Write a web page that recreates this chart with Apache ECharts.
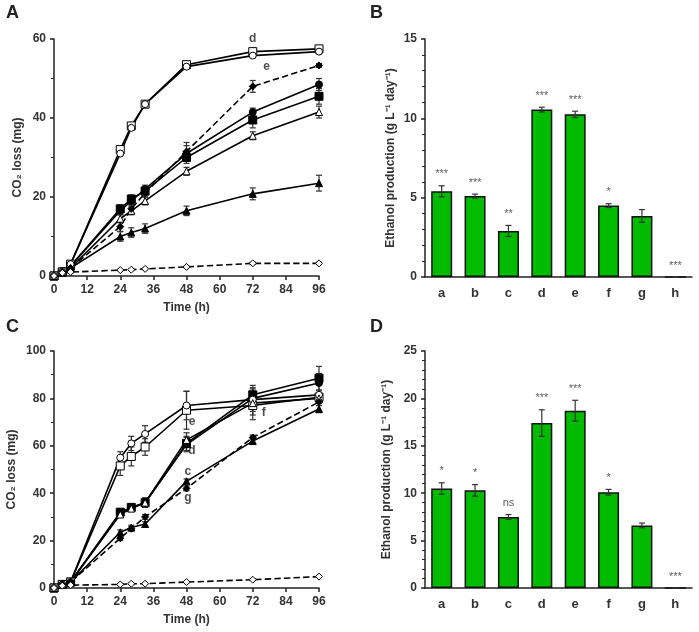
<!DOCTYPE html>
<html><head><meta charset="utf-8">
<script src="https://cdn.jsdelivr.net/npm/echarts@6/dist/echarts.min.js"></script>
<style>html,body{margin:0;background:#fff}#c{width:699px;height:632px}</style>
</head><body><div id="c"></div>
<script>
// sampling times (h)
const times = [0, 3, 6, 24, 28, 33, 48, 72, 96];
const strains = ['a', 'b', 'c', 'd', 'e', 'f', 'g', 'h'];

// panel A: CO2 loss (mg) and SD
const A_vals = {
  a: [0, 1, 2.5, 17, 19.5, 21.5, 30, 39.5, 45.5],
  b: [0, 1, 2.5, 16.5, 19, 22, 31, 41.5, 48.5],
  c: [0, 1, 2, 10, 11, 12, 16.5, 20.8, 23.5],
  d: [0, 1, 3, 32, 38, 43.5, 53.5, 56.8, 57.5],
  e: [0, 1, 3, 31, 37.5, 43.5, 53, 55.8, 56.8],
  f: [0, 1, 2, 14.5, 16.5, 19, 26.5, 35.5, 41.5],
  g: [0, 1, 2, 12.5, 17, 21, 31.5, 48, 53.3],
  h: [0, 0.8, 1, 1.5, 1.6, 1.8, 2.3, 3.2, 3.2]
};
const A_err = {
  a: [0, 1, 0.5, 1, 1, 1, 1.5, 2, 2],
  b: [0, 1, 0.5, 1, 1, 1, 2, 1, 1.5],
  c: [0, 0.5, 0.5, 1.2, 1.2, 1.2, 1.2, 1.5, 2],
  d: [0, 0.5, 0.5, 0.5, 0.5, 0.5, 0.5, 0.5, 0.5],
  e: [0, 0.5, 0.5, 0.5, 0.5, 0.5, 0.5, 0.5, 0.5],
  f: [0, 0.5, 0.5, 1, 1, 1, 1, 1, 1.5],
  g: [0, 0.5, 0.5, 1.2, 1, 1, 2.3, 1.5, 0.5],
  h: [0, 0.2, 0.2, 0.2, 0.2, 0.2, 0.2, 0.3, 0.3]
};
// panel C
const C_vals = {
  a: [0, 1.5, 2.5, 32, 34, 36, 61, 81.5, 88.5],
  b: [0, 1.5, 2.5, 31.5, 34, 36, 60.5, 80, 86.5],
  c: [0, 1.5, 2.5, 23.5, 25.5, 27, 45, 62, 75.5],
  d: [0, 1.5, 2.5, 51.5, 55.5, 59.5, 75, 77, 80.5],
  e: [0, 1.5, 2.5, 55, 61, 65, 77, 79.5, 81.5],
  f: [0, 1.5, 2.5, 31, 33.5, 36, 62.5, 78, 80],
  g: [0, 1.5, 2.5, 21, 25, 30, 42, 63.5, 78.5],
  h: [0, 1, 1.2, 1.5, 1.8, 1.8, 2.5, 3.5, 4.8]
};
const C_err = {
  a: [0, 1, 1, 1, 1, 2, 3, 4, 5],
  b: [0, 1, 1, 1, 1, 2, 3, 4, 4],
  c: [0, 0.5, 0.5, 1, 1, 1, 1, 1, 1.5],
  d: [0, 1, 1, 4, 4, 3.5, 8, 6, 2],
  e: [0, 1, 1, 2.5, 3, 3.5, 6, 5, 2],
  f: [0, 1, 1, 1, 1, 1.5, 3, 5, 2],
  g: [0, 0.5, 0.5, 1, 1, 1, 1, 1, 1.5],
  h: [0, 0.2, 0.2, 0.2, 0.2, 0.2, 0.2, 0.3, 0.3]
};
// ethanol production (g L-1 day-1)
const B_vals = [5.4, 5.1, 2.9, 10.55, 10.25, 4.5, 3.85, 0];
const B_err = [0.35, 0.12, 0.35, 0.15, 0.2, 0.12, 0.4, 0];
const B_sig = ['***', '***', '**', '***', '***', '*', '', '***'];
const D_vals = [10.5, 10.3, 7.5, 17.4, 18.7, 10.1, 6.6, 0];
const D_err = [0.6, 0.6, 0.25, 1.4, 1.1, 0.3, 0.25, 0];
const D_sig = ['*', '*', 'ns', '***', '***', '*', '', '***'];

// curve end labels [x, y, text]
const A_labels = [[72, 60, 'd'], [77, 53, 'e'], [100, 53.3, 'g'], [100, 48.5, 'b'], [100, 45.5, 'a'], [100, 41.5, 'f'], [100, 23.5, 'c'], [100, 3.2, 'h']];
const C_labels = [[100, 90, 'a'], [100, 86, 'b'], [50, 70, 'e'], [50, 58, 'd'], [76, 74, 'f'], [48.5, 49, 'c'], [48.5, 38, 'g'], [100, 7, 'h']];

const sym = {
  a: ['rect', '#000'], b: ['circle', '#000'], c: ['triangle', '#000'], d: ['rect', '#fff'],
  e: ['circle', '#fff'], f: ['triangle', '#fff'], g: ['diamond', '#000'], h: ['diamond', '#fff']
};
const FONT = 'Liberation Sans';

function errItem(params, api) {
  const x = api.value(0), y = api.value(1), e = api.value(2);
  const lo = api.coord([x, y - e]), hi = api.coord([x, y + e]);
  const w = params.seriesType === 'custom' && api.value(3) ? 7 : 3;
  return {
    type: 'group', children: [
      { type: 'line', shape: { x1: lo[0], y1: lo[1], x2: hi[0], y2: hi[1] }, style: { stroke: '#333', lineWidth: 1.2 } },
      { type: 'line', shape: { x1: lo[0] - w, y1: lo[1], x2: lo[0] + w, y2: lo[1] }, style: { stroke: '#333', lineWidth: 1.2 } },
      { type: 'line', shape: { x1: hi[0] - w, y1: hi[1], x2: hi[0] + w, y2: hi[1] }, style: { stroke: '#333', lineWidth: 1.2 } }
    ]
  };
}

function lineSeries(vals, errs, labels, gi) {
  const out = [];
  strains.forEach(function (s) {
    out.push({
      type: 'custom', xAxisIndex: gi, yAxisIndex: gi, renderItem: errItem, z: 1,
      data: times.map(function (t, i) { return [t, vals[s][i], errs[s][i], 0]; })
    });
    out.push({
      type: 'line', xAxisIndex: gi, yAxisIndex: gi, z: 3,
      data: times.map(function (t, i) { return [t, vals[s][i]]; }),
      symbol: sym[s][0], symbolSize: s === 'a' || s === 'd' ? 8 : 7,
      itemStyle: { color: sym[s][1], borderColor: '#000', borderWidth: 1 },
      lineStyle: { color: '#000', width: 1.6, type: s === 'g' || s === 'h' ? 'dashed' : 'solid' }
    });
  });
  out.push({
    type: 'scatter', xAxisIndex: gi, yAxisIndex: gi, symbolSize: 0, silent: true,
    data: labels.map(function (l) { return { value: [l[0], l[1]], name: l[2] }; }),
    label: { show: true, formatter: '{b}', position: 'inside', fontFamily: FONT, fontWeight: 'bold', fontSize: 12, color: '#222' }
  });
  return out;
}

function barSeries(vals, errs, sig, gi) {
  return [
    {
      type: 'bar', xAxisIndex: gi, yAxisIndex: gi, data: vals, barWidth: 21,
      itemStyle: { color: '#00bb00', borderColor: '#111', borderWidth: 1.5 }
    },
    {
      type: 'custom', xAxisIndex: gi, yAxisIndex: gi, renderItem: errItem, z: 5,
      data: vals.map(function (v, i) { return [i, v, errs[i], 1, sig[i]]; }),
      encode: { x: 0, y: 1 }
    },
    {
      type: 'scatter', xAxisIndex: gi, yAxisIndex: gi, symbolSize: 0, silent: true,
      data: vals.map(function (v, i) { return { value: [i, v + errs[i]], name: sig[i] }; }),
      label: { show: true, formatter: '{b}', position: 'top', distance: 6, fontFamily: FONT, fontSize: 11, color: '#333' }
    }
  ];
}

const grids = [
  { left: 54, top: 39, width: 265, height: 237 },
  { left: 425, top: 39, width: 267, height: 238 },
  { left: 54, top: 351, width: 265, height: 237 },
  { left: 425, top: 351, width: 267, height: 237 }
];
const axLine = { lineStyle: { color: '#222', width: 1.5 } };
const axLab = { fontFamily: FONT, fontWeight: 'bold', fontSize: 12, color: '#333' };
const nameSt = { fontFamily: FONT, fontWeight: 'bold', fontSize: 12, color: '#333' };

function timeAxis(gi) {
  return {
    type: 'value', gridIndex: gi, min: 0, max: 96, interval: 12, name: 'Time (h)', nameLocation: 'middle', nameGap: 26,
    nameTextStyle: nameSt, axisLine: axLine, axisTick: { length: 4, lineStyle: { width: 1.5 } }, axisLabel: axLab, splitLine: { show: false }
  };
}
function catAxis(gi) {
  return {
    type: 'category', gridIndex: gi, data: strains, axisLine: axLine, axisTick: { show: false },
    axisLabel: Object.assign({}, axLab, { fontSize: 13, margin: 10 })
  };
}
function valAxis(gi, max, interval, name, gap, minorN) {
  return {
    type: 'value', gridIndex: gi, min: 0, max: max, interval: interval, name: name, nameLocation: 'middle', nameGap: gap,
    nameTextStyle: nameSt, axisLine: { show: true, lineStyle: { color: '#222', width: 1.5 } },
    axisTick: { show: true, length: 4, lineStyle: { width: 1.5 } },
    minorTick: { show: true, splitNumber: minorN, length: 3, lineStyle: { color: '#222' } },
    axisLabel: axLab, splitLine: { show: false }
  };
}

const chart = echarts.init(document.getElementById('c'), null, { renderer: 'canvas' });
const panelTitle = function (t, x, y) {
  return { type: 'text', left: x, top: y, style: { text: t, font: 'bold 18px "Liberation Sans"', fill: '#222' } };
};
chart.setOption({
  backgroundColor: '#fff',
  animation: false,
  graphic: [panelTitle('A', 6, 4), panelTitle('B', 370, 4), panelTitle('C', 6, 318), panelTitle('D', 370, 318)],
  grid: grids,
  xAxis: [timeAxis(0), catAxis(1), timeAxis(2), catAxis(3)],
  yAxis: [
    valAxis(0, 60, 20, 'CO₂ loss (mg)', 30, 2),
    valAxis(1, 15, 5, 'Ethanol production (g L⁻¹ day⁻¹)', 28, 5),
    valAxis(2, 100, 20, 'CO₂ loss (mg)', 36, 2),
    valAxis(3, 25, 5, 'Ethanol production (g L⁻¹ day⁻¹)', 32, 5)
  ],
  series: [].concat(
    lineSeries(A_vals, A_err, A_labels, 0),
    barSeries(B_vals, B_err, B_sig, 1),
    lineSeries(C_vals, C_err, C_labels, 2),
    barSeries(D_vals, D_err, D_sig, 3)
  )
});
</script>
</body></html>
